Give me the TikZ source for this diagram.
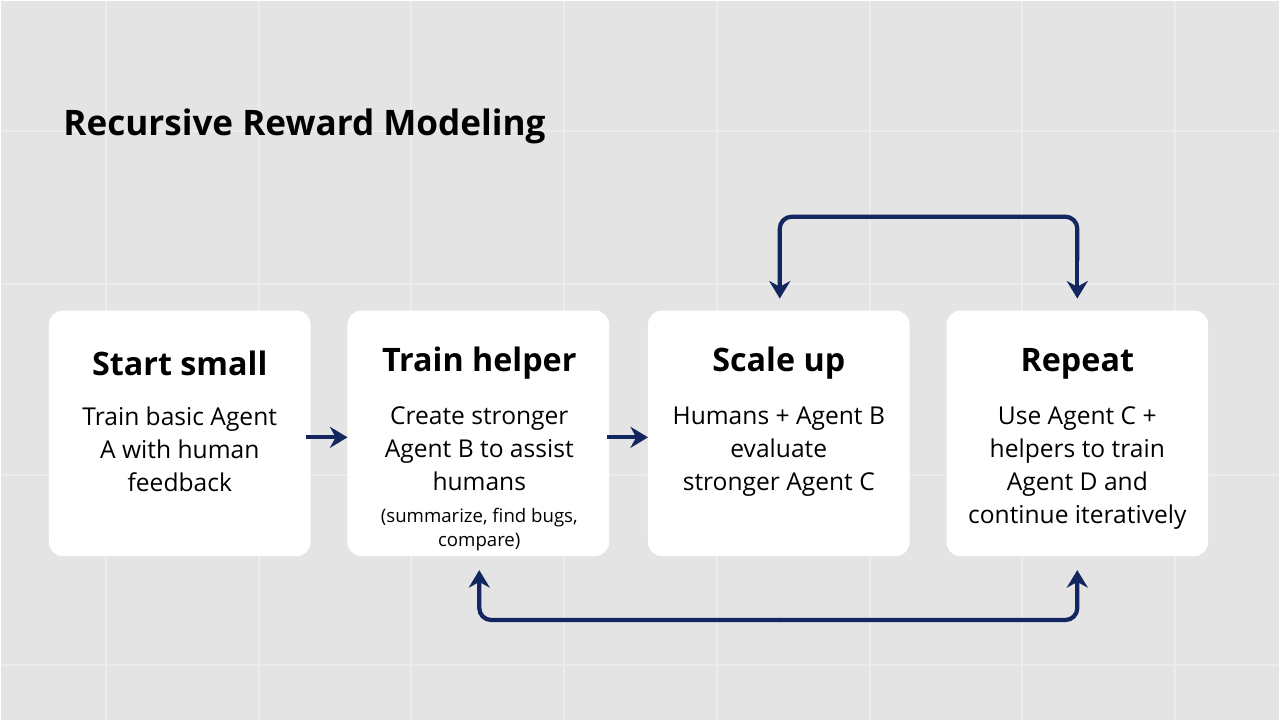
\documentclass[tikz,border=0pt]{standalone}
\usepackage{fontspec}
\setmainfont{Open Sans}
\usetikzlibrary{arrows.meta}
\definecolor{navy}{HTML}{142660}
\definecolor{bg}{HTML}{E4E4E4}
\begin{document}
\begin{tikzpicture}[x=0.01cm, y=-0.01cm]
      \tikzset{card/.style={draw=none, fill=white, rounded corners=0.14cm},
               head/.style={font=\fontsize{9.2}{11}\selectfont\bfseries, anchor=center},
               body/.style={font=\fontsize{7}{9.4}\selectfont, align=center, anchor=north},
               small/.style={font=\fontsize{5.3}{6.8}\selectfont, align=center, anchor=north},
               link/.style={draw=navy, line width=1.2pt, -{Stealth[length=5pt,width=6pt]}, rounded corners=0.12cm}}
      \fill[bg] (0,0) rectangle (1280,720);
      % faint grid
      \foreach \x in {105,258,411,564,717,870,1023,1176} {%
        \draw[white!30!bg, line width=0.6pt] (\x,0) -- (\x,720);
      }
      \foreach \y in {130,283,475,665} {%
        \draw[white!30!bg, line width=0.6pt] (0,\y) -- (1280,\y);
      }
      \node[font=\fontsize{10}{12}\selectfont\bfseries, anchor=west] (title) at (50,126) {Recursive Reward Modeling};

      \foreach \n/\l in {s1/48, s2/347, s3/648, s4/947} {%
        \path[card] (\l,310) rectangle ++(262,246);
        \coordinate (\n) at (\l+131,310);
      }
      \node[head] (h1) at (179,363) {Start small};
      \node[head] (h2) at (479,363) {Train helper};
      \node[head] (h3) at (779,363) {Scale up};
      \node[head] (h4) at (1078,363) {Repeat};

      \node[body] (b1) at (179,394) {Train basic Agent\\A with human\\feedback};
      \node[body] (b2) at (479,394) {Create stronger\\Agent B to assist\\humans};
      \node[small] (n2) at (479,496) {(summarize, find bugs,\\compare)};
      \node[body] (b3) at (779,394) {Humans + Agent B\\evaluate\\stronger Agent C};
      \node[body] (b4) at (1078,394) {Use Agent C +\\helpers to train\\Agent D and\\continue iteratively};

      \coordinate (e1) at (305,437);
      \coordinate (f1) at (347,437);
      \coordinate (e2) at (607,437);
      \coordinate (f2) at (648,437);
      \coordinate (t3) at (780,298);
      \coordinate (t4) at (1078,298);
      \coordinate (u2) at (479,570);
      \coordinate (u4) at (1078,570);

      \draw[link] (e1) -- (f1);
      \draw[link] (e2) -- (f2);
      \draw[link] (1078,260) |- (780,216) -- (t3);
      \draw[link] (1078,240) -- (t4);
      \draw[link] (780,620) -| (u2);
      \draw[link] (779,620) -| (u4);
    \end{tikzpicture}
\end{document}
